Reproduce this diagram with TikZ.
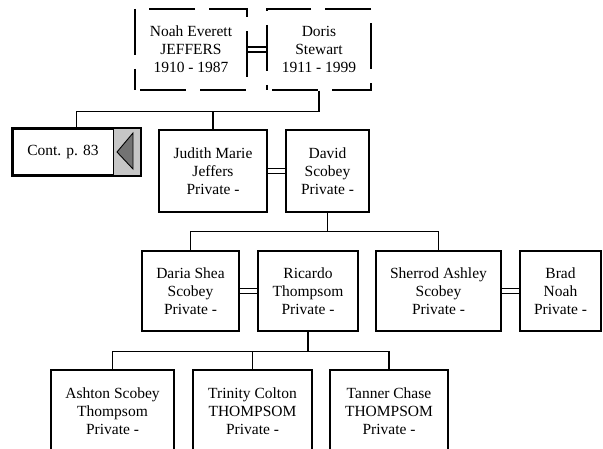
\documentclass[tikz,border=0pt]{standalone}
\usepackage{fontspec}
\setmainfont{Liberation Serif}
\usetikzlibrary{calc}
\begin{document}
\begin{tikzpicture}[x=1pt,y=-1pt,
  person/.style={draw,line width=1.3pt,inner sep=0pt,align=center,
    font=\fontsize{15.5}{18}\selectfont},
  dperson/.style={person,dash pattern=on 46pt off 14pt,dash phase=-5pt},
  conn/.style={line width=1.3pt},
  marr/.style={line width=1.1pt}]
\useasboundingbox (0,0) rectangle (603,449);
\begin{scope}
\clip (0,0) rectangle (603,449);
% generation 1
\node[dperson,minimum width=112pt,minimum height=81pt] (noah) at (191,49.5) {Noah Everett\\JEFFERS\\1910 - 1987};
\node[dperson,minimum width=104pt,minimum height=81pt] (doris) at (319,49.5) {Doris\\Stewart\\1911 - 1999};
% generation 2
\node[draw,line width=1.8pt,minimum width=127pt,minimum height=46pt,inner sep=0pt] (cont) at (76.5,152) {};
\node[font=\fontsize{15.5}{18}\selectfont] (conttext) at (63,152) {Cont. p. 83};
\node[person,minimum width=108pt,minimum height=82pt] (judith) at (213,171) {Judith Marie\\Jeffers\\Private -};
\node[person,minimum width=83pt,minimum height=82pt] (david) at (327.5,171) {David\\Scobey\\Private -};
% generation 3
\node[person,minimum width=97pt,minimum height=80pt] (daria) at (190.5,291) {Daria Shea\\Scobey\\Private -};
\node[person,minimum width=100pt,minimum height=80pt] (ricardo) at (308,291) {Ricardo\\Thompsom\\Private -};
\node[person,minimum width=125pt,minimum height=80pt] (sherrod) at (438.5,291) {Sherrod Ashley\\Scobey\\Private -};
\node[person,minimum width=81pt,minimum height=80pt] (brad) at (560.5,291) {Brad\\Noah\\Private -};
% generation 4
\node[person,minimum width=123pt,minimum height=82pt] (ashton) at (112.5,411) {Ashton Scobey\\Thompsom\\Private -};
\node[person,minimum width=119pt,minimum height=82pt] (trinity) at (252.5,411) {Trinity Colton\\THOMPSOM\\Private -};
\node[person,minimum width=118pt,minimum height=82pt] (tanner) at (389,411) {Tanner Chase\\THOMPSOM\\Private -};
\end{scope}
% continuation marker
\fill[gray!45] ([shift={(-27pt,0)}]cont.north east) rectangle (cont.south east);
\draw[line width=1.8pt] (cont.north west) rectangle (cont.south east);
\draw[line width=0.9pt] ([shift={(-27pt,0)}]cont.north east) -- ([shift={(-27pt,0)}]cont.south east);
\fill[gray!90!black,draw=black,line width=0.9pt] (117,152) -- (133,133) -- (133,169) -- cycle;
% marriages
\foreach \a/\b in {noah/doris,judith/david,daria/ricardo,sherrod/brad}{
  \draw[marr] ([yshift=2.5pt]\a.east) -- ([yshift=2.5pt]\b.west);
  \draw[marr] ([yshift=-2.5pt]\a.east) -- ([yshift=-2.5pt]\b.west);
}
% descent lines
\coordinate (b1) at ($(doris.south)+(0,21)$);
\draw[conn] (doris.south) -- (b1) -| (cont.north);
\draw[conn] (b1) -| (judith.north);
\coordinate (b2) at ($(david.south)+(0,19)$);
\draw[conn] (david.south) -- (b2) -| (daria.north);
\draw[conn] (b2) -| (sherrod.north);
\coordinate (b3) at ($(ricardo.south)+(0,20)$);
\draw[conn] (ricardo.south) -- (b3) -| (ashton.north);
\draw[conn] (b3) -| (trinity.north);
\draw[conn] (b3) -| (tanner.north);
\end{tikzpicture}
\end{document}
